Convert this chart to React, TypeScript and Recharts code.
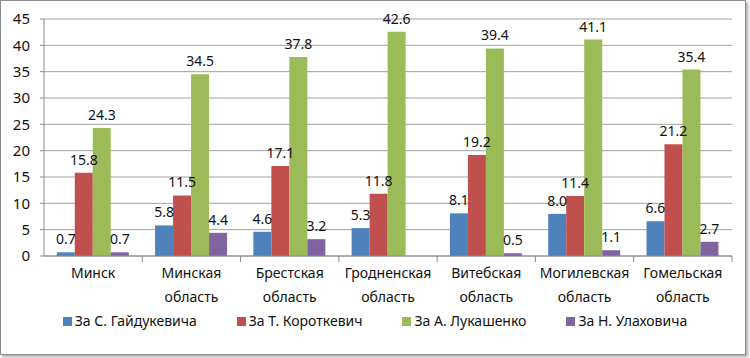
import { BarChart, Bar, XAxis, YAxis, CartesianGrid, Legend, LabelList } from 'recharts';

const regions = [
  'Минск',
  'Минская область',
  'Брестская область',
  'Гродненская область',
  'Витебская область',
  'Могилевская область',
  'Гомельская область',
];
const gaidukevich = [0.7, 5.8, 4.6, 5.3, 8.1, 8.0, 6.6];
const korotkevich = [15.8, 11.5, 17.1, 11.8, 19.2, 11.4, 21.2];
const lukashenko = [24.3, 34.5, 37.8, 42.6, 39.4, 41.1, 35.4];
const ulakhovich = [0.7, 4.4, 3.2, 0, 0.5, 1.1, 2.7];
const yTicks = [0, 5, 10, 15, 20, 25, 30, 35, 40, 45];

const series = [
  { key: 'g', name: 'За С. Гайдукевича', color: '#4F81BD' },
  { key: 'k', name: 'За Т. Короткевич', color: '#C0504D' },
  { key: 'l', name: 'За А. Лукашенко', color: '#9BBB59' },
  { key: 'u', name: 'За Н. Улаховича', color: '#8064A2' },
];

const data = regions.map((r, i) => ({
  region: r,
  g: gaidukevich[i],
  k: korotkevich[i],
  l: lukashenko[i],
  u: ulakhovich[i],
}));

const W = 750;
const H = 358;
const margin = { top: 19, right: 18, left: 0, bottom: 27 };
const yAxisWidth = 44;
const step = (W - margin.left - margin.right - yAxisWidth) / regions.length;
const font = '"Noto Sans", sans-serif';
const axisColor = '#8a8a8a';

function RegionTick({ x, y, payload }: any) {
  const lines = String(payload.value).split(' ');
  const axisY = y - 8;
  return (
    <g>
      <line x1={x + step / 2} x2={x + step / 2} y1={axisY} y2={axisY + 6} stroke={axisColor} />
      <text x={x} y={y} textAnchor="middle" fill="#111" fontSize={14} fontFamily={font}>
        {lines.map((l, i) => (
          <tspan key={i} x={x} dy={i === 0 ? 14 : 24}>{l}</tspan>
        ))}
      </text>
    </g>
  );
}

function LegendContent() {
  return (
    <div style={{ display: 'flex', justifyContent: 'center', gap: 40, fontSize: 14, fontFamily: font, color: '#111', lineHeight: '20px' }}>
      {series.map((s) => (
        <span key={s.key} style={{ display: 'flex', alignItems: 'center' }}>
          <span style={{ width: 9, height: 9, background: s.color, marginRight: 3, display: 'inline-block' }} />
          {s.name}
        </span>
      ))}
    </div>
  );
}

const fmt = (v: any) => (Number(v) === 0 ? '0' : Number(v).toFixed(1));

export default function App() {
  return (
    <div style={{ position: 'absolute', left: 0, top: 0, width: W, height: H, background: '#fff' }}>
      <div
        style={{
          position: 'absolute',
          left: 0,
          top: 0,
          width: 744,
          height: 353,
          border: '1px solid #8c8c8c',
          boxShadow: '2px 2px 3px rgba(0,0,0,0.35)',
        }}
      />
      <div style={{ position: 'absolute', left: 0, top: 0 }}>
        <BarChart width={W} height={H} data={data} margin={margin} barGap={0} barCategoryGap="13%">
          <CartesianGrid vertical={false} stroke="#a0a0a0" />
          <XAxis
            dataKey="region"
            interval={0}
            height={55}
            tickSize={6}
            tickMargin={2}
            tickLine={false}
            axisLine={{ stroke: axisColor }}
            tick={<RegionTick />}
          />
          <YAxis
            width={yAxisWidth}
            domain={[0, 45]}
            ticks={yTicks}
            interval={0}
            tickSize={4}
            tickMargin={10}
            axisLine={{ stroke: axisColor }}
            tickLine={{ stroke: axisColor }}
            tick={{ fill: '#111', fontSize: 15, fontFamily: font }}
          />
          <Legend verticalAlign="bottom" height={20} content={<LegendContent />} wrapperStyle={{ left: 0, width: W }} />
          {series.map((s) => (
            <Bar key={s.key} dataKey={s.key} name={s.name} fill={s.color} isAnimationActive={false}>
              <LabelList dataKey={s.key} position="top" offset={8} formatter={fmt} fill="#111" fontSize={14} fontFamily={font} />
            </Bar>
          ))}
        </BarChart>
      </div>
    </div>
  );
}
